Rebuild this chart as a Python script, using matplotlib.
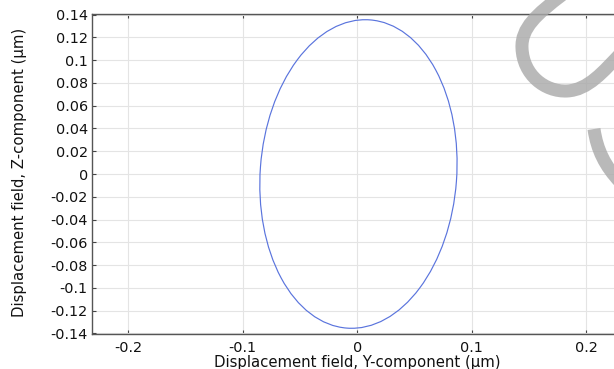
import matplotlib
matplotlib.use("Agg")
import matplotlib.pyplot as plt
from matplotlib.patches import Ellipse, PathPatch
from matplotlib.path import Path

# ---- data ----
x_ticks = [-0.2, -0.1, 0.0, 0.1, 0.2]
x_tick_labels = ["-0.2", "-0.1", "0", "0.1", "0.2"]
y_ticks = [-0.14, -0.12, -0.10, -0.08, -0.06, -0.04, -0.02, 0.0,
           0.02, 0.04, 0.06, 0.08, 0.10, 0.12, 0.14]
y_tick_labels = ["-0.14", "-0.12", "-0.1", "-0.08", "-0.06", "-0.04", "-0.02", "0",
                 "0.02", "0.04", "0.06", "0.08", "0.1", "0.12", "0.14"]
# trajectory ellipse: centre (Y, Z), full width (Y), full height (Z), tilt (deg)
ell_center = (0.001, 0.0)
ell_width = 0.1716
ell_height = 0.2714
ell_angle = -4.2
x_label = "Displacement field, Y-component (µm)"
y_label = "Displacement field, Z-component (µm)"

W, H, DPI = 614, 369, 100
fig = plt.figure(figsize=(W / DPI, H / DPI), dpi=DPI)
fig.patch.set_facecolor("white")

left_px, top_px, bottom_px, right_px = 92, 14, 334, 622.6
ax = fig.add_axes([left_px / W, (H - bottom_px) / H,
                   (right_px - left_px) / W, (bottom_px - top_px) / H])
ax.set_xlim(-0.2317, 0.2317)
ax.set_ylim(-0.1405, 0.1405)

ax.set_xticks(x_ticks)
ax.set_xticklabels(x_tick_labels)
ax.set_yticks(y_ticks)
ax.set_yticklabels(y_tick_labels)
ax.grid(True, color="#e4e4e4", linewidth=0.8)
ax.set_axisbelow(True)
ax.tick_params(direction="in", length=3, width=0.8, color="#444444",
               top=True, right=True, labelsize=10.4, labelcolor="#111111")
ax.tick_params(axis="x", pad=5)
ax.tick_params(axis="y", pad=3)
for s in ax.spines.values():
    s.set_color("#555555")
    s.set_linewidth(1.0)

ax.add_patch(Ellipse(ell_center, ell_width, ell_height, angle=ell_angle,
                     fill=False, edgecolor="#5a74dd", linewidth=0.85))

ax.set_xlabel(x_label, fontsize=10.7, color="#111111", va="center")
ax.set_ylabel(y_label, fontsize=10.7, color="#111111", va="center")
ax.xaxis.set_label_coords((357.3 - left_px) / (right_px - left_px),
                          -(363 - bottom_px) / (bottom_px - top_px))
ax.yaxis.set_label_coords(-(left_px - 20) / (right_px - left_px),
                          (bottom_px - 172) / (bottom_px - top_px))

# decorative gray watermark strokes (pixel coords, y downward)
def px(x, y):
    return (x, H - y)

verts1 = [px(562, -5), px(537, 14), px(521, 28), px(522, 48),
          px(523, 75), px(545, 92), px(567, 91),
          px(588, 90), px(603, 72), px(622, 52)]
codes1 = [Path.MOVETO] + [Path.CURVE4] * 9
verts2 = [px(594, 129), px(597, 150), px(605, 166), px(620, 182)]
codes2 = [Path.MOVETO] + [Path.CURVE4] * 3
for v, c in ((verts1, codes1), (verts2, codes2)):
    p = PathPatch(Path(v, c), transform=None, fill=False,
                  edgecolor="#a8a8a8", alpha=0.8, linewidth=13 * 72 / DPI,
                  capstyle="butt")
    fig.add_artist(p)

fig.savefig("out.png", dpi=DPI, facecolor="white")
